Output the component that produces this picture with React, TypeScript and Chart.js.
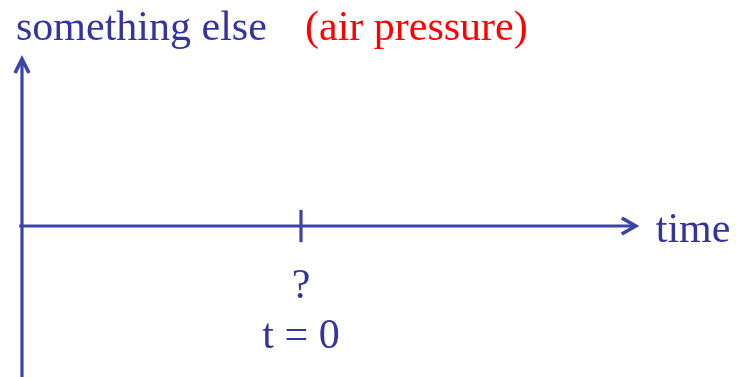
import React, { useEffect, useRef } from "react";
import { Chart, registerables } from "chart.js";

Chart.register(...registerables);

// Axis extents in chart units (time on x, the measured quantity on y)
const timeAxis = [-5.05, 6];
const valueAxis = [-2.8, 3];
const axisOrigin = { x: -5, y: 0 };
const eventTime = [0];
const tickHalfHeight = 0.29;

const titleParts = ["something else", "(air pressure)"];
const eventLabels = ["?", "t = 0"];
const timeLabel = "time";

const LINE = "#3c44a8";
const TEXT = "#33359c";
const RED = "#ff0000";
const FONT = '42px "Liberation Serif", "Times New Roman", serif';

const arrowsAndLabels = {
  id: "arrowsAndLabels",
  afterDatasetsDraw(chart: any) {
    const { ctx, scales } = chart;
    const xs = scales.x;
    const ys = scales.y;
    const x0 = xs.getPixelForValue(axisOrigin.x);
    const y0 = ys.getPixelForValue(axisOrigin.y);
    const xTip = xs.getPixelForValue(timeAxis[1]);
    const yTip = ys.getPixelForValue(valueAxis[1]);

    ctx.save();
    ctx.strokeStyle = LINE;
    ctx.lineWidth = 3.6;
    ctx.lineJoin = "miter";
    ctx.lineCap = "butt";
    // arrowhead on the time axis
    ctx.beginPath();
    ctx.moveTo(xTip - 14, y0 - 8);
    ctx.lineTo(xTip, y0);
    ctx.lineTo(xTip - 14, y0 + 8);
    ctx.stroke();
    // arrowhead on the value axis
    ctx.beginPath();
    ctx.moveTo(x0 - 7, yTip + 14);
    ctx.lineTo(x0, yTip);
    ctx.lineTo(x0 + 7, yTip + 14);
    ctx.stroke();

    ctx.font = FONT;
    ctx.textBaseline = "alphabetic";
    // title
    ctx.textAlign = "left";
    ctx.fillStyle = TEXT;
    ctx.fillText(titleParts[0], 16, 40);
    ctx.fillStyle = RED;
    ctx.fillText(titleParts[1], 305, 40);

    // axis label
    ctx.fillStyle = TEXT;
    ctx.fillText(timeLabel, xTip + 20, y0 + 16);

    // labels under the tick
    const xt = xs.getPixelForValue(eventTime[0]);
    ctx.textAlign = "center";
    ctx.fillText(eventLabels[0], xt, y0 + 72);
    ctx.fillText(eventLabels[1], xt, y0 + 122);
    ctx.restore();
  },
};

export default function App() {
  const ref = useRef<HTMLCanvasElement | null>(null);

  useEffect(() => {
    document.body.style.margin = "0";
    const canvas = ref.current;
    if (!canvas) return;
    const lineStyle = {
      borderColor: LINE,
      borderWidth: 3.2,
      pointRadius: 0,
      fill: false,
      tension: 0,
      borderCapStyle: "butt" as const,
    };
    const chart = new Chart(canvas, {
      type: "line",
      data: {
        datasets: [
          {
            ...lineStyle,
            label: "time axis",
            data: timeAxis.map((x) => ({ x, y: axisOrigin.y })),
          },
          {
            ...lineStyle,
            label: "value axis",
            data: valueAxis.map((y) => ({ x: axisOrigin.x, y })),
          },
          {
            ...lineStyle,
            label: "t = 0",
            data: [-tickHalfHeight, tickHalfHeight].map((y) => ({ x: eventTime[0], y })),
          },
        ],
      },
      options: {
        animation: false,
        responsive: false,
        maintainAspectRatio: false,
        layout: { padding: 0 },
        plugins: {
          legend: { display: false },
          tooltip: { enabled: false },
          title: { display: false },
        },
        scales: {
          x: { type: "linear", display: false, min: -5.394, max: 7.814 },
          y: { type: "linear", display: false, min: -2.712, max: 4.06 },
        },
      },
      plugins: [arrowsAndLabels],
    });
    return () => chart.destroy();
  }, []);

  return (
    <div style={{ width: 737, height: 377, background: "#fff" }}>
      <canvas ref={ref} width={737} height={377} />
    </div>
  );
}
